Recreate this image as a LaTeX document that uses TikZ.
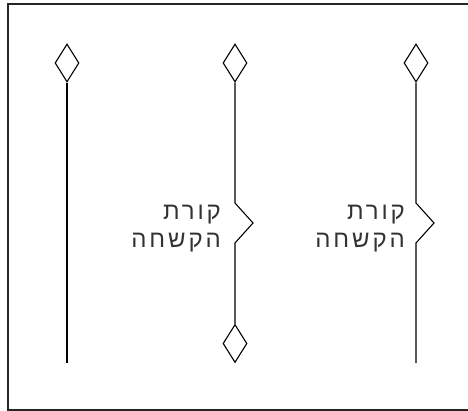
\documentclass[tikz,border=0pt]{standalone}
\usepackage{fontspec}
\newfontfamily\hebfont[Script=Hebrew,LetterSpace=12]{Liberation Sans}
\TeXXeTstate=1
\usetikzlibrary{shapes.geometric}
\begin{document}
\begin{tikzpicture}[x=1pt,y=-1pt,
  member/.style={line width=1.1pt,black},
  endmark/.style={draw,shape=diamond,line width=1.1pt,inner sep=0pt,minimum width=24pt,minimum height=38pt},
  lbl/.style={anchor=base east,inner sep=0pt,font=\hebfont\fontsize{24}{28}\selectfont,text=black!80}]
\useasboundingbox (0,0) rectangle (468,411);
\draw[line width=1.4pt,black!85] (8,4) rectangle (480,410);
% left member
\node[endmark] (LT) at (67,63) {};
\coordinate (LB) at (67,363);
\draw[member] (LT.south) -- (LB);
% middle member
\node[endmark] (MT) at (235,63) {};
\node[endmark] (MB) at (235,343.5) {};
\coordinate (M1) at (235,203);
\coordinate (M2) at (253,223);
\coordinate (M3) at (235,243);
\draw[member] (MT.south) -- (M1) -- (M2) -- (M3) -- (MB.north);
\node[lbl] (ML1) at (221,220) {\beginR קורת\endR};
\node[lbl] (ML2) at (221,248) {\beginR הקשחה\endR};
% right member
\node[endmark] (RT) at (416,63) {};
\coordinate (R1) at (416,203);
\coordinate (R2) at (434,223);
\coordinate (R3) at (416,243);
\coordinate (RB) at (416,363);
\draw[member] (RT.south) -- (R1) -- (R2) -- (R3) -- (RB);
\node[lbl] (RL1) at (405,220) {\beginR קורת\endR};
\node[lbl] (RL2) at (405,248) {\beginR הקשחה\endR};
\end{tikzpicture}
\end{document}
